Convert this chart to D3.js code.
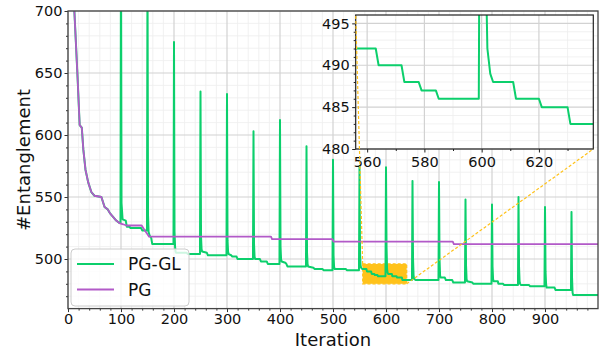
<!DOCTYPE html>
<html>
<head>
<meta charset="utf-8">
<script src="https://cdn.jsdelivr.net/npm/d3@7"></script>
<style>
  body { margin: 0; background: #fff; }
  svg { display: block; font-family: "DejaVu Sans", sans-serif; }
</style>
</head>
<body>
<svg id="chart" width="608" height="349"></svg>
<script>
// PG: [iteration, #entanglement] at points where the curve changes
const pgPoints = [
  [0, 800], [12, 700], [18, 647], [22, 608], [24, 607], [26, 606], [29, 588], [33, 572],
  [38, 562], [44, 554], [50, 551], [63, 550], [66, 546], [69, 542], [75, 540], [79, 537],
  [85, 534], [91, 531], [97, 529], [104, 528], [110, 527], [139, 527], [145, 523], [150, 520],
  [153, 518], [383, 518], [385, 516], [499, 516], [501, 514], [726, 514], [728, 512], [1000, 512]
];

// PG-GL: follows PG at first, then spikes every 50 iterations
const pgglPoints = [
  [0, 800], [12, 700], [18, 647], [22, 608], [24, 607], [26, 606], [29, 588], [33, 572],
  [38, 562], [44, 554], [50, 551], [63, 550], [66, 546], [69, 542], [75, 540], [79, 537],
  [85, 534], [91, 531], [97, 529], [99, 529],
  [100, 760], [101, 545], [103, 532], [109, 531], [111, 526], [116, 526], [118, 525], [138, 525], [140, 523], [149, 523],
  [150, 740], [151, 535], [152, 522], [154, 519], [157, 517], [159, 512], [199, 512],
  [200, 675], [201, 522], [202, 510], [203, 506], [204, 505], [224, 505], [226, 504], [249, 504],
  [250, 635], [251, 518], [252, 508], [253, 506], [262, 505], [264, 503], [299, 503],
  [300, 633], [301, 515], [302, 506], [303, 504], [308, 503], [310, 502], [318, 502], [320, 500], [349, 500],
  [350, 603], [351, 512], [352, 502], [353, 500], [362, 500], [364, 498], [375, 498], [377, 496], [399, 496],
  [400, 612], [401, 510], [402, 500], [403, 498], [410, 497], [412, 496], [414, 494], [449, 494],
  [450, 591], [451, 505], [452, 496], [453, 494], [463, 493], [465, 492], [480, 492], [482, 491], [499, 491],
  [500, 580], [501, 503], [502, 494], [503, 492], [524, 492], [526, 491], [549, 491],
  [550, 575], [551, 505], [552, 495], [553, 493], [555, 492], [563, 492], [564, 490], [572, 490],
  [573, 488], [578, 488], [579, 487], [584, 487], [585, 486], [599, 486],
  [600, 574], [601, 510], [602, 492], [603, 489], [604, 488], [611, 488], [612, 486], [620, 486],
  [621, 485], [630, 485], [631, 483], [649, 483],
  [650, 563], [651, 500], [652, 487], [653, 484], [656, 483], [699, 483],
  [700, 562], [701, 500], [702, 487], [703, 485], [711, 485], [713, 483], [725, 483], [727, 481], [749, 481],
  [750, 548], [751, 495], [752, 484], [753, 482], [763, 481], [765, 480], [799, 480],
  [800, 544], [801, 494], [802, 484], [803, 482], [811, 482], [812, 480], [821, 480], [823, 479], [849, 479],
  [850, 550], [851, 494], [852, 482], [853, 480], [855, 479], [870, 479], [872, 478], [899, 478],
  [900, 542], [901, 490], [902, 480], [903, 477], [918, 477], [920, 475], [949, 475],
  [950, 538], [951, 485], [952, 473], [953, 471], [1000, 471]
];

const seriesNames = ['PG-GL', 'PG'];
const seriesColors = ['#0ccf6c', '#b25ac8'];

const xTicks = [0, 100, 200, 300, 400, 500, 600, 700, 800, 900];
const yTicks = [500, 550, 600, 650, 700];
const insetXTicks = [560, 580, 600, 620];
const insetYTicks = [480, 485, 490, 495];

// zoomed window
const zoomX = [556, 639];
const zoomY = [480, 496];

const svg = d3.select('#chart');
const width = 608;

const x = d3.scaleLinear().domain([0, 1000]).range([68, 598]);
const y = d3.scaleLinear().domain([460, 700]).range([308.6, 11]);
const xi = d3.scaleLinear().domain(zoomX).range([355.7, 593.3]);
const yi = d3.scaleLinear().domain(zoomY).range([149, 15]);

const defs = svg.append('defs');
defs.append('clipPath').attr('id', 'mainClip').append('rect')
  .attr('x', 68).attr('y', 11).attr('width', 530).attr('height', 297.6);
defs.append('clipPath').attr('id', 'insetClip').append('rect')
  .attr('x', 355.7).attr('y', 15).attr('width', 237.6).attr('height', 134);

function drawGrid(g, xs, ys, xMinor, yMinor, xMajor, yMajor) {
  const [x0, x1] = xs.range();
  const [y0, y1] = ys.range();
  g.append('g').selectAll('line').data(xMinor).join('line')
    .attr('x1', (d) => xs(d)).attr('x2', (d) => xs(d)).attr('y1', y0).attr('y2', y1)
    .attr('stroke', '#ededed').attr('stroke-width', 0.8);
  g.append('g').selectAll('line').data(yMinor).join('line')
    .attr('y1', (d) => ys(d)).attr('y2', (d) => ys(d)).attr('x1', x0).attr('x2', x1)
    .attr('stroke', '#ededed').attr('stroke-width', 0.8);
  g.append('g').selectAll('line').data(xMajor).join('line')
    .attr('x1', (d) => xs(d)).attr('x2', (d) => xs(d)).attr('y1', y0).attr('y2', y1)
    .attr('stroke', '#d2d2d2').attr('stroke-width', 1.2);
  g.append('g').selectAll('line').data(yMajor).join('line')
    .attr('y1', (d) => ys(d)).attr('y2', (d) => ys(d)).attr('x1', x0).attr('x2', x1)
    .attr('stroke', '#d2d2d2').attr('stroke-width', 1.2);
}

// main grid
drawGrid(
  svg.append('g'), x, y,
  d3.range(20, 1000, 20).filter((d) => d % 100 !== 0),
  d3.range(470, 700, 10).filter((d) => d % 50 !== 0),
  xTicks, yTicks
);

// zoom rectangle
svg.append('rect')
  .attr('x', x(zoomX[0])).attr('y', y(zoomY[1]))
  .attr('width', x(zoomX[1]) - x(zoomX[0])).attr('height', y(zoomY[0]) - y(zoomY[1]))
  .attr('fill', '#ffc21a').attr('stroke', '#ffc21a').attr('stroke-width', 1.2)
  .attr('stroke-dasharray', '3,2');

const line = d3.line().x((d) => x(d[0])).y((d) => y(d[1]));
const mainLines = svg.append('g').attr('clip-path', 'url(#mainClip)');
mainLines.append('path').datum(pgglPoints).attr('d', line)
  .attr('fill', 'none').attr('stroke', seriesColors[0]).attr('stroke-width', 2).attr('stroke-linejoin', 'round');
mainLines.append('path').datum(pgPoints).attr('d', line)
  .attr('fill', 'none').attr('stroke', seriesColors[1]).attr('stroke-width', 1.8).attr('stroke-linejoin', 'round');

// main axes
const xAxis = svg.append('g').attr('transform', 'translate(0,308.6)')
  .call(d3.axisBottom(x).tickValues(xTicks).tickSize(3.5).tickPadding(2).tickFormat(d3.format('d')));
svg.append('g').attr('transform', 'translate(0,308.6)')
  .call(d3.axisBottom(x).tickValues(d3.range(20, 1000, 20).filter((d) => d % 100 !== 0)).tickSize(2).tickFormat(''))
  .call((g) => g.select('.domain').remove());
const yAxis = svg.append('g').attr('transform', 'translate(68,0)')
  .call(d3.axisLeft(y).tickValues(yTicks).tickSize(3.5).tickPadding(2));
svg.append('g').attr('transform', 'translate(68,0)')
  .call(d3.axisLeft(y).tickValues(d3.range(470, 700, 10).filter((d) => d % 50 !== 0)).tickSize(2).tickFormat(''))
  .call((g) => g.select('.domain').remove());

svg.selectAll('.tick line').attr('stroke', '#333').attr('stroke-width', 1);
[xAxis, yAxis].forEach((g) => {
  g.select('.domain').remove();
  g.selectAll('text').attr('font-size', 14.5).attr('fill', '#111').attr('font-family', '"DejaVu Sans", sans-serif');
});

// main frame
svg.append('rect').attr('x', 68).attr('y', 11).attr('width', 530).attr('height', 297.6)
  .attr('fill', 'none').attr('stroke', '#444').attr('stroke-width', 1.3);

// legend
const legend = svg.append('g');
legend.append('rect').attr('x', 71).attr('y', 249).attr('width', 118).attr('height', 57).attr('rx', 4)
  .attr('fill', '#fff').attr('fill-opacity', 0.8).attr('stroke', '#cccccc').attr('stroke-width', 1);
seriesNames.forEach((name, i) => {
  const ly = 264 + i * 25.5;
  legend.append('line').attr('x1', 77).attr('x2', 114).attr('y1', ly).attr('y2', ly)
    .attr('stroke', seriesColors[i]).attr('stroke-width', 2);
  legend.append('text').attr('x', 128).attr('y', ly).attr('dy', '0.36em')
    .attr('font-size', 17).attr('fill', '#111').text(name);
});

// inset
const inset = svg.append('g');
inset.append('rect').attr('x', 355.7).attr('y', 15).attr('width', 237.6).attr('height', 134).attr('fill', '#fff');
drawGrid(
  inset, xi, yi,
  [570, 590, 610, 630],
  d3.range(481, 496, 1).filter((d) => d % 5 !== 0),
  insetXTicks, insetYTicks
);
const iline = d3.line().x((d) => xi(d[0])).y((d) => yi(d[1]));
const insetLines = inset.append('g').attr('clip-path', 'url(#insetClip)');
insetLines.append('path').datum(pgglPoints).attr('d', iline)
  .attr('fill', 'none').attr('stroke', seriesColors[0]).attr('stroke-width', 2).attr('stroke-linejoin', 'round');
insetLines.append('path').datum(pgPoints).attr('d', iline)
  .attr('fill', 'none').attr('stroke', seriesColors[1]).attr('stroke-width', 1.8);

const ixAxis = inset.append('g').attr('transform', 'translate(0,149)')
  .call(d3.axisBottom(xi).tickValues(insetXTicks).tickSize(3.5).tickPadding(4));
inset.append('g').attr('transform', 'translate(0,149)')
  .call(d3.axisBottom(xi).tickValues([570, 590, 610, 630]).tickSize(2).tickFormat(''))
  .call((g) => g.select('.domain').remove());
const iyAxis = inset.append('g').attr('transform', 'translate(355.7,0)')
  .call(d3.axisLeft(yi).tickValues(insetYTicks).tickSize(3.5).tickPadding(2.5));
inset.append('g').attr('transform', 'translate(355.7,0)')
  .call(d3.axisLeft(yi).tickValues(d3.range(481, 496, 1).filter((d) => d % 5 !== 0)).tickSize(2).tickFormat(''))
  .call((g) => g.select('.domain').remove());
inset.selectAll('.tick line').attr('stroke', '#222').attr('stroke-width', 1);
[ixAxis, iyAxis].forEach((g) => {
  g.select('.domain').remove();
  g.selectAll('text').attr('font-size', 14.5).attr('fill', '#111').attr('font-family', '"DejaVu Sans", sans-serif');
});
inset.append('rect').attr('x', 355.7).attr('y', 15).attr('width', 237.6).attr('height', 134)
  .attr('fill', 'none').attr('stroke', '#222').attr('stroke-width', 1.2);

// connectors
const connectors = [
  [[x(zoomX[0]), y(zoomY[1])], [355.7, 15]],
  [[x(zoomX[1]), y(zoomY[0])], [593.3, 149]]
];
svg.append('g').selectAll('line').data(connectors).join('line')
  .attr('x1', (d) => d[0][0]).attr('y1', (d) => d[0][1])
  .attr('x2', (d) => d[1][0]).attr('y2', (d) => d[1][1])
  .attr('stroke', '#ffc21a').attr('stroke-width', 1.2).attr('stroke-dasharray', '3,2');

// axis labels
svg.append('text').attr('x', 333).attr('y', 346).attr('text-anchor', 'middle')
  .attr('font-size', 18).attr('fill', '#111').text('Iteration');
svg.append('text').attr('transform', 'translate(30,160) rotate(-90)').attr('text-anchor', 'middle')
  .attr('font-size', 18).attr('fill', '#111').text('#Entanglement');
</script>
</body>
</html>
